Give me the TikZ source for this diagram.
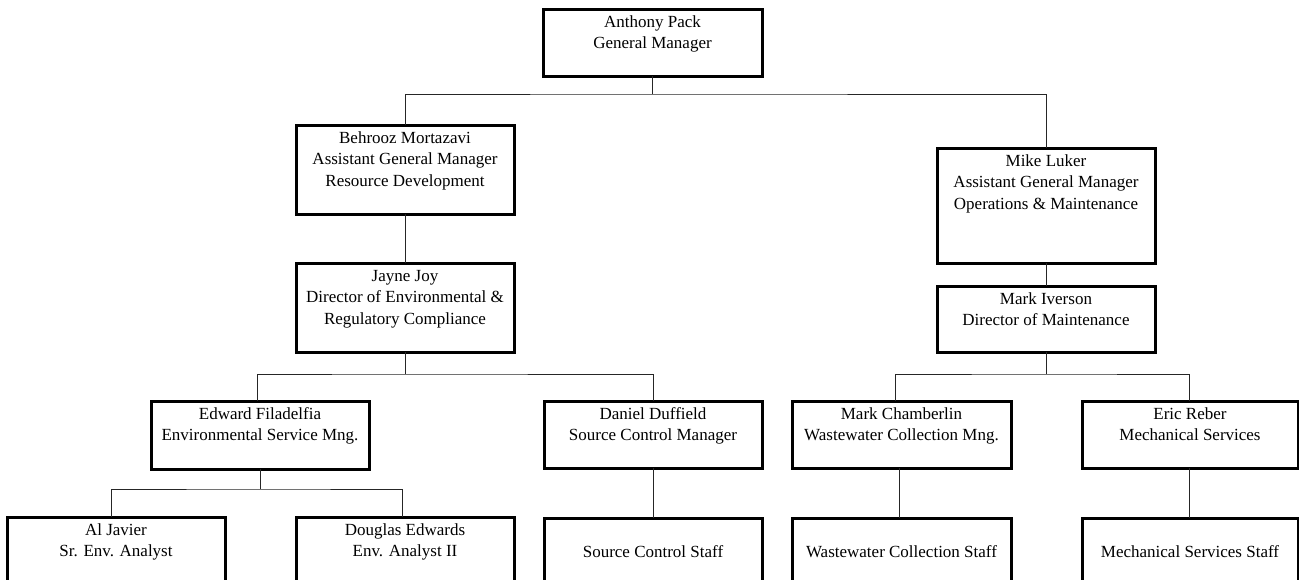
\documentclass[tikz,border=0pt]{standalone}
\usepackage{fontspec}
\setmainfont{Liberation Serif}
\newcommand\orgtxt[3]{\parbox[c][#2][t]{#1}{\centering\rule{0pt}{18pt}#3}}
\begin{document}
\begin{tikzpicture}[x=1pt,y=-1pt,
  obox/.style={draw, line width=3pt, inner sep=0pt, outer sep=0pt, anchor=north west},
  conn/.style={line width=0.9pt, draw=black!85}]
\useasboundingbox (0,0) rectangle (1299,579);
\clip (0,0) rectangle (1299,579);
\fontsize{17}{21.5}\selectfont
% boxes
\node[obox] (ap) at (543,9) {\orgtxt{219pt}{67pt}{Anthony Pack\\General Manager}};
\node[obox] (bm) at (296,125) {\orgtxt{218pt}{89pt}{Behrooz Mortazavi\\Assistant General Manager\\Resource Development}};
\node[obox] (jj) at (296,263) {\orgtxt{218pt}{89pt}{Jayne Joy\\Director of Environmental \&\\Regulatory Compliance}};
\node[obox] (ml) at (937,148) {\orgtxt{218pt}{115pt}{Mike Luker\\Assistant General Manager\\Operations \& Maintenance}};
\node[obox] (mi) at (937,286) {\orgtxt{218pt}{66pt}{Mark Iverson\\Director of Maintenance}};
\node[obox] (ef) at (151,401) {\orgtxt{218pt}{68pt}{Edward Filadelfia\\Environmental Service Mng.}};
\node[obox] (dd) at (544,401) {\orgtxt{218pt}{67pt}{Daniel Duffield\\Source Control Manager}};
\node[obox] (mc) at (792,401) {\orgtxt{219pt}{67pt}{Mark Chamberlin\\Wastewater Collection Mng.}};
\node[obox] (er) at (1082,401) {\orgtxt{216pt}{67pt}{Eric Reber\\Mechanical Services}};
\node[obox] (aj) at (7,517) {\orgtxt{218pt}{70pt}{Al Javier\\Sr. Env. Analyst}};
\node[obox] (de) at (296,517) {\orgtxt{218pt}{70pt}{Douglas Edwards\\Env. Analyst II}};
\node[obox] (scs) at (544,518) {\orgtxt{218pt}{70pt}{\\Source Control Staff}};
\node[obox] (wcs) at (792,518) {\orgtxt{219pt}{70pt}{\\Wastewater Collection Staff}};
\node[obox] (mss) at (1082,518) {\orgtxt{216pt}{70pt}{\\Mechanical Services Staff}};
% junctions, straight below their parent boxes
\path (ap.south) ++(0,18) coordinate (j1);
\path (jj.south) ++(0,22) coordinate (j2);
\path (ef.south) ++(0,20) coordinate (j3);
\path (mi.south) ++(0,22) coordinate (j4);
% connectors
\draw[conn] (ap.south) -- (j1);
\draw[conn] (bm.north) |- (j1) -| (ml.north);
\draw[conn] (bm.south) -- (bm.south |- jj.north);
\draw[conn] (ml.south) -- (ml.south |- mi.north);
\draw[conn] (jj.south) -- (j2);
\draw[conn] ([xshift=-3pt]ef.north) |- (j2) -| (dd.north);
\draw[conn] (ef.south) -- (j3);
\draw[conn] ([xshift=-5pt]aj.north) |- (j3) -| ([xshift=-3pt]de.north);
\draw[conn] (dd.south) -- (dd.south |- scs.north);
\draw[conn] (mi.south) -- (j4);
\draw[conn] ([xshift=-6.5pt]mc.north) |- (j4) -| ([xshift=-1pt]er.north);
\draw[conn] ([xshift=-2.5pt]mc.south) -- ([xshift=-2.5pt]mc.south |- wcs.north);
\draw[conn] ([xshift=-1pt]er.south) -- ([xshift=-1pt]er.south |- mss.north);
\end{tikzpicture}
\end{document}
